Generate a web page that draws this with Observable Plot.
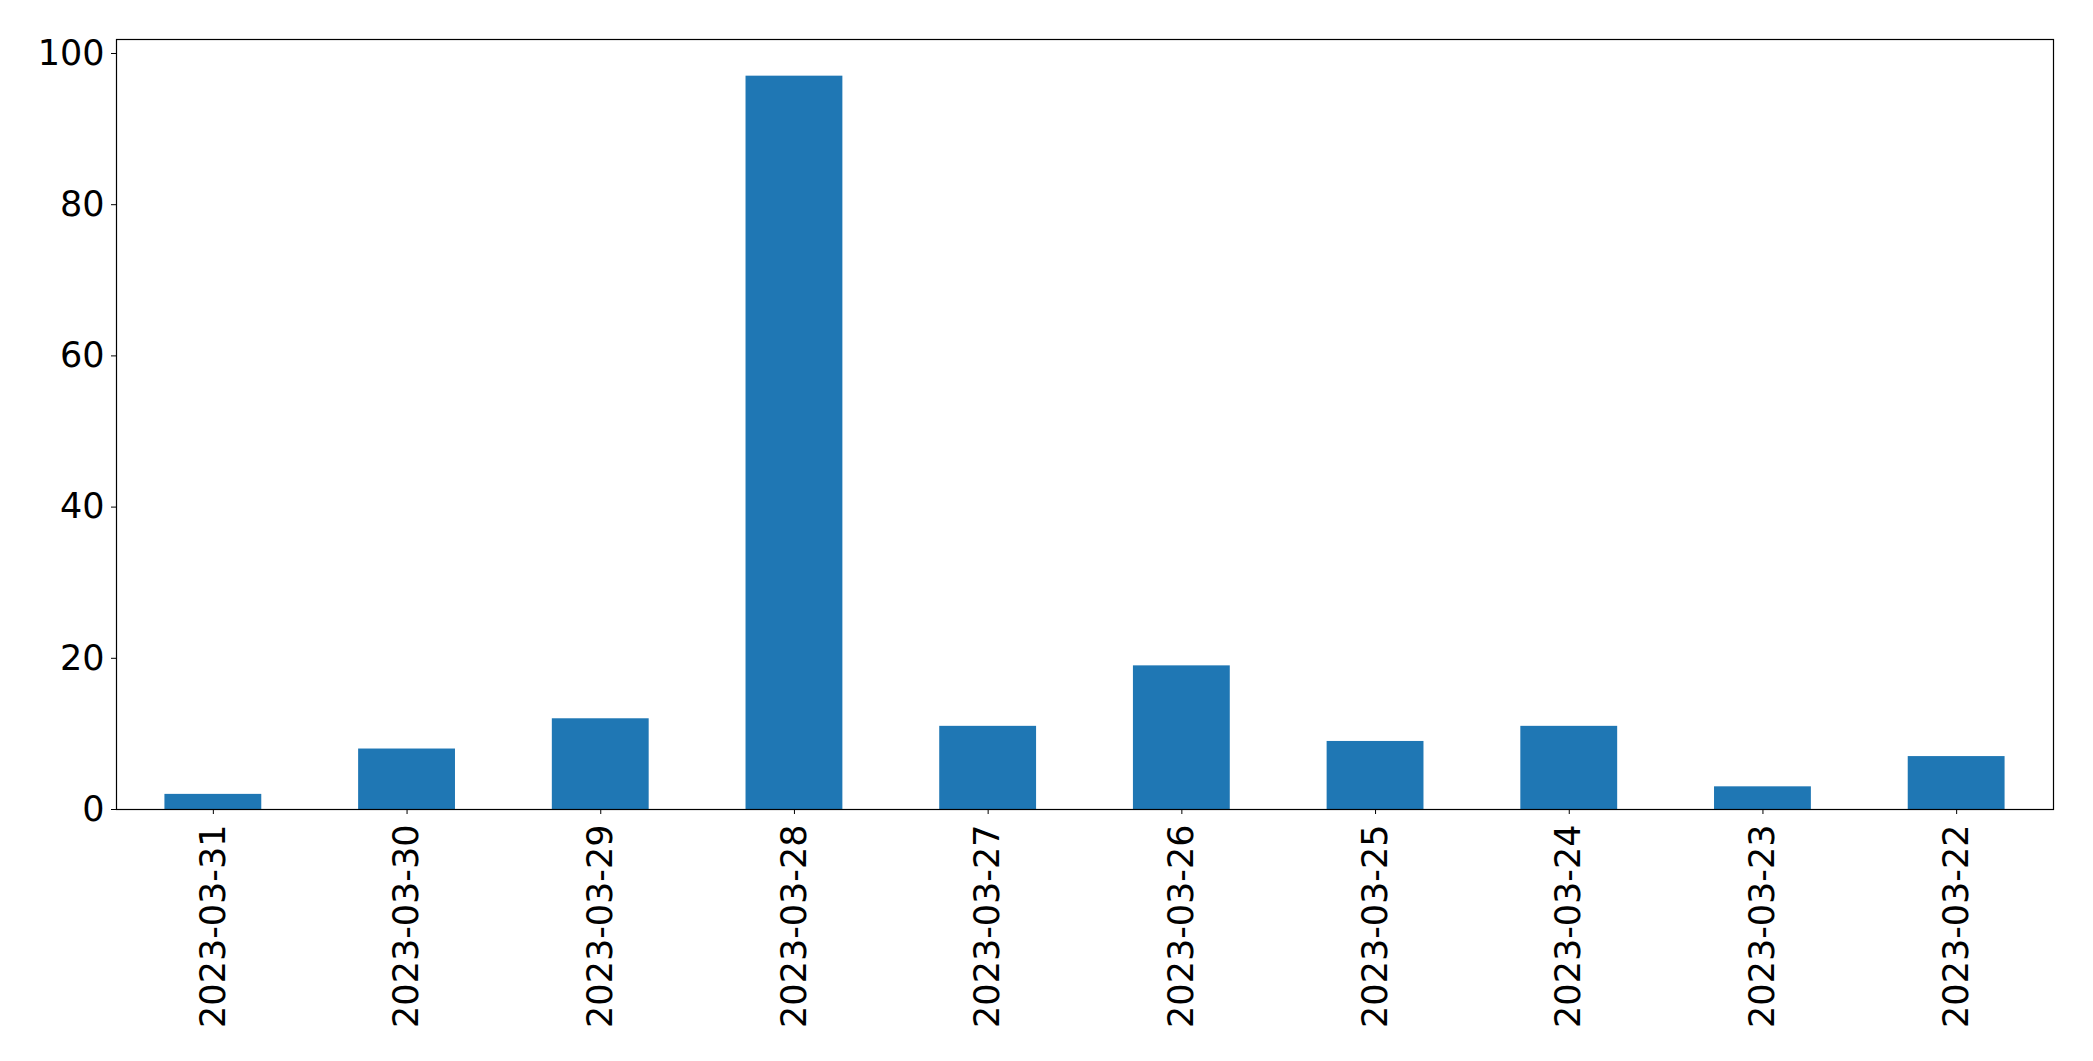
<!DOCTYPE html>
<html>
<head>
<meta charset="utf-8">
<script src="https://cdn.jsdelivr.net/npm/d3@7"></script>
<script src="https://cdn.jsdelivr.net/npm/@observablehq/plot@0.6"></script>
<style>
  html, body { margin: 0; padding: 0; background: #fff; }
  svg { display: block; }
</style>
</head>
<body>
<div id="chart"></div>
<script>
const dates = ["2023-03-31","2023-03-30","2023-03-29","2023-03-28","2023-03-27","2023-03-26","2023-03-25","2023-03-24","2023-03-23","2023-03-22"];
const counts = [2, 8, 12, 97, 11, 19, 9, 11, 3, 7];
const yTicks = [0, 20, 40, 60, 80, 100];

const data = dates.map((d, i) => ({date: d, count: counts[i]}));

const chart = Plot.plot({
  width: 2093,
  height: 1061,
  marginLeft: 116,
  marginRight: 40,
  marginTop: 39,
  marginBottom: 252,
  style: {fontFamily: "DejaVu Sans", fontSize: "35px", color: "#000", background: "#fff"},
  x: {domain: dates, paddingInner: 0.5, paddingOuter: 0.25, round: false, label: null},
  y: {domain: [0, 97 * 1.05], label: null},
  marks: [
    Plot.barY(data, {x: "date", y: "count", fill: "#1f77b4"}),
    Plot.axisY({ticks: yTicks, tickSize: 5, tickPadding: 7, label: null, fontSize: 35}),
    Plot.axisX({tickSize: 5, tickRotate: -90, tickPadding: 10, label: null, fontSize: 35}),
    Plot.frame({stroke: "#000", strokeWidth: 1.2})
  ]
});
document.getElementById("chart").appendChild(chart);
</script>
</body>
</html>
